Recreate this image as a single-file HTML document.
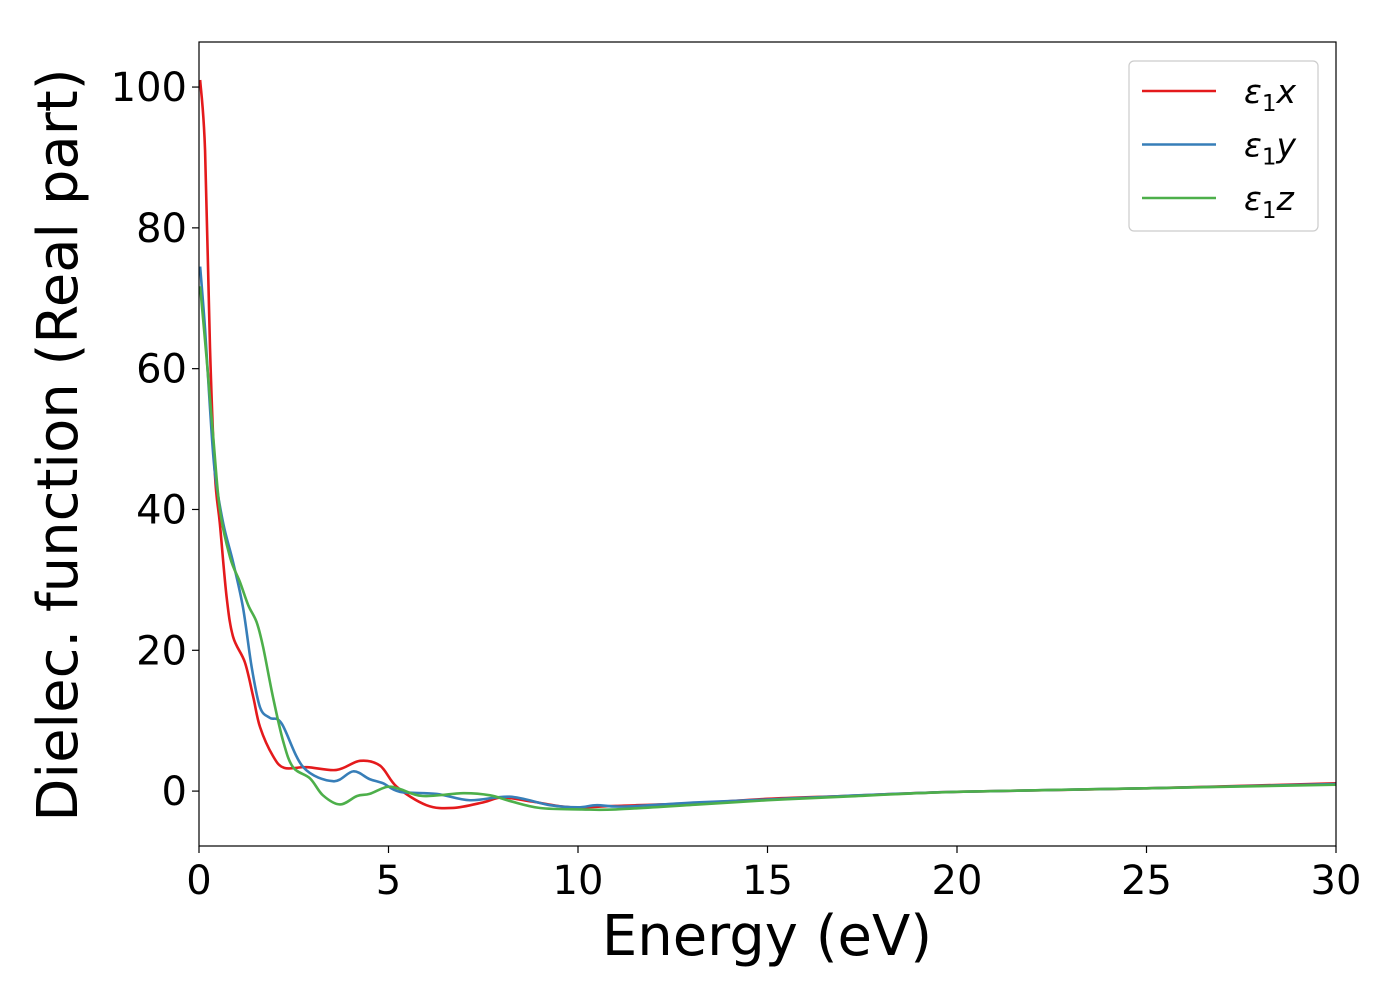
<!DOCTYPE html>
<html><head><meta charset="utf-8"><style>
body{margin:0;background:#fff}
svg text{font-family:"DejaVu Sans","Liberation Sans",sans-serif;fill:#000}
</style></head><body>
<svg width="1400" height="1000" xmlns="http://www.w3.org/2000/svg">
<g id="plot"></g>
</svg>
<script>
const xTicks=[0,5,10,15,20,25,30];
const yTicks=[0,20,40,60,80,100];
const seriesNames=["ε1x","ε1y","ε1z"];
const seriesColors=["#e41a1c","#377eb8","#4daf4a"];
const redE=[0.03,0.16,0.29,0.42,0.55,0.73,0.9,1.21,1.43,1.61,1.95,2.25,2.85,3.63,4.25,4.78,5.22,6.0,6.7,7.5,8.0,8.8,9.8,11,13.2,15,17,20,25,30];
const redV=[101,91,63,45,38,27.5,21.9,18.3,13.4,9.1,5.0,3.3,3.4,3.0,4.3,3.6,0.6,-2.0,-2.4,-1.6,-0.9,-1.5,-2.3,-2.1,-1.7,-1.1,-0.7,-0.1,0.4,1.1];
const blueE=[0.03,0.16,0.29,0.42,0.64,0.9,1.16,1.39,1.61,1.87,2.18,2.75,3.54,4.07,4.5,4.86,5.3,6.27,7.15,8.2,9.26,10,10.5,11.2,13.2,15,17,20,25,30];
const blueV=[74.5,65.6,54.4,45.2,38,32.5,26.1,17.6,11.9,10.4,9.6,3.4,1.4,2.8,1.7,1.1,-0.1,-0.4,-1.3,-0.8,-2,-2.3,-2,-2.2,-1.6,-1.2,-0.7,-0.1,0.4,1.0];
const greenE=[0.03,0.2,0.38,0.55,0.82,1.08,1.3,1.52,1.69,1.95,2.22,2.48,2.93,3.27,3.72,4.17,4.5,4.96,5.3,5.9,6.97,7.68,8.2,9,10.1,11,13.2,15,17,20,25,30];
const greenV=[71.7,61.5,50,40,33.2,29.7,26.4,24,20.5,13.4,7.1,3.4,1.8,-0.6,-1.9,-0.7,-0.4,0.6,0.3,-0.7,-0.3,-0.6,-1.4,-2.4,-2.6,-2.6,-1.9,-1.3,-0.8,-0.1,0.4,0.9];
const seriesE=[redE,blueE,greenE],seriesV=[redV,blueV,greenV];

const L=199,R=1336,T=42,B=846,xMin=0,xMax=30,yMin=-7.8,yMax=106.4;
const sx=v=>L+(v-xMin)/(xMax-xMin)*(R-L);
const sy=v=>B-(v-yMin)/(yMax-yMin)*(B-T);
const NS="http://www.w3.org/2000/svg";
const g=document.getElementById('plot');
function mk(t,a,p){const e=document.createElementNS(NS,t);for(const k in a)e.setAttribute(k,a[k]);(p||g).appendChild(e);return e;}
const clip=mk('clipPath',{id:'c'});mk('rect',{x:L,y:T,width:R-L,height:B-T},clip);
function smooth(xs,ys){let d=`M${sx(xs[0])},${sy(ys[0])}`;const n=xs.length;const P=i=>[sx(xs[Math.max(0,Math.min(n-1,i))]),sy(ys[Math.max(0,Math.min(n-1,i))])];
for(let i=0;i<n-1;i++){const p0=P(i-1),p1=P(i),p2=P(i+1),p3=P(i+2);
const c1=[p1[0]+(p2[0]-p0[0])/6,p1[1]+(p2[1]-p0[1])/6],c2=[p2[0]-(p3[0]-p1[0])/6,p2[1]-(p3[1]-p1[1])/6];
d+=`C${c1[0]},${c1[1]} ${c2[0]},${c2[1]} ${p2[0]},${p2[1]}`;}return d;}
const lines=mk('g',{'clip-path':'url(#c)'});


const lineNames=['line-eps1x','line-eps1y','line-eps1z'];
for(let s=0;s<3;s++){const p=mk('path',{d:smooth(seriesE[s],seriesV[s]),fill:'none',stroke:seriesColors[s],'stroke-width':2.6,'stroke-linejoin':'round'},lines);

}
const frame=mk('rect',{x:L,y:T,width:R-L,height:B-T,fill:'none',stroke:'#000','stroke-width':1.2});


xTicks.forEach(v=>{const x=sx(v);mk('line',{x1:x,x2:x,y1:B,y2:B+7,stroke:'#000','stroke-width':1.2});
const t=mk('text',{x:x,y:B+48,'font-size':40,'text-anchor':'middle'});t.textContent=v;

});
yTicks.forEach(v=>{const y=sy(v);mk('line',{x1:L-7,x2:L,y1:y,y2:y,stroke:'#000','stroke-width':1.2});
const t=mk('text',{x:L-12,y:y+14,'font-size':40,'text-anchor':'end'});t.textContent=v;

});
const xl=mk('text',{x:767,y:955,'font-size':56,'text-anchor':'middle'});xl.textContent='Energy (eV)';


const yl=mk('text',{x:0,y:0,'font-size':56,'text-anchor':'middle',transform:'translate(77,445) rotate(-90)'});yl.textContent='Dielec. function (Real part)';


const lg=mk('g',{});


mk('rect',{x:1129,y:61,width:189,height:170,rx:5,fill:'#fff',stroke:'#ccc','stroke-width':1.2},lg);
const subs=['x','y','z'];
for(let s=0;s<3;s++){const y=91+s*53.5;
mk('line',{x1:1142,x2:1216,y1:y,y2:y,stroke:seriesColors[s],'stroke-width':2.6},lg);
const t=mk('text',{x:1244,y:y+12,'font-size':33},lg);


const a=mk('tspan',{'font-style':'italic'},t);a.textContent='ε';
const b=mk('tspan',{'font-size':23,dy:8},t);b.textContent='1';
const c=mk('tspan',{'font-style':'italic',dy:-8},t);c.textContent=subs[s];}
</script>
</body></html>
